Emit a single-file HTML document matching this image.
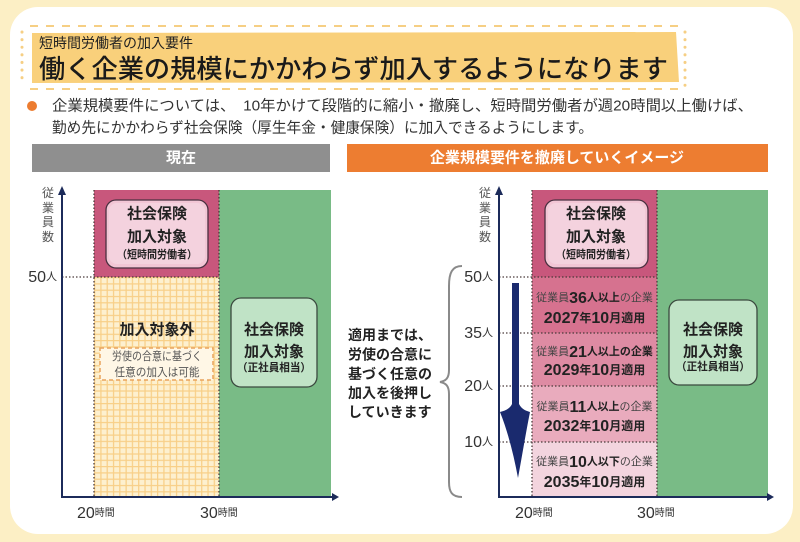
<!DOCTYPE html>
<html><head><meta charset="utf-8">
<style>
html,body{margin:0;padding:0;background:#fcefc5;}
svg{display:block;}
text{font-family:"Liberation Sans","Noto Sans CJK JP",sans-serif;}
</style></head>
<body>
<svg width="800" height="542" viewBox="0 0 800 542" xmlns="http://www.w3.org/2000/svg">
<defs>
<pattern id="grid" patternUnits="userSpaceOnUse" x="94" y="277" width="6.3" height="6.3">
<rect width="6.3" height="6.3" fill="#fdf0cf"/>
<path d="M0 0.6 H6.3 M0.6 0 V6.3" stroke="#f8cf87" stroke-width="1.3"/>
</pattern>
</defs>
<rect width="800" height="542" fill="#fcefc5"/>
<rect x="10" y="7" width="783" height="527" rx="28" fill="#ffffff"/>

<!-- title -->
<polygon points="32,33 676,32 679,82 32,83" fill="#f9d07b"/>
<g stroke="#f6cf84" fill="none">
<line x1="30" y1="26" x2="680" y2="26" stroke-width="2" stroke-dasharray="8 8"/>
<line x1="30" y1="89" x2="682" y2="89" stroke-width="2" stroke-dasharray="8 8"/>
<line x1="22" y1="32" x2="22" y2="84" stroke-width="3" stroke-dasharray="0.1 7.5" stroke-linecap="round"/>
<line x1="685" y1="32" x2="685" y2="88" stroke-width="3" stroke-dasharray="0.1 7.5" stroke-linecap="round"/>
</g>
<text x="39" y="43" font-size="14" fill="#222" dominant-baseline="central" textLength="154" lengthAdjust="spacingAndGlyphs">短時間労働者の加入要件</text>
<text x="39" y="69" font-size="26" font-weight="500" fill="#1a1a1a" dominant-baseline="central" textLength="629" lengthAdjust="spacingAndGlyphs">働く企業の規模にかかわらず加入するようになります</text>

<!-- bullet -->
<circle cx="32" cy="106" r="5" fill="#ec7c30"/>
<text x="52" y="106" font-size="15" fill="#333" dominant-baseline="central" textLength="701" lengthAdjust="spacingAndGlyphs">企業規模要件については、　10年かけて段階的に縮小・撤廃し、短時間労働者が週20時間以上働けば、</text>
<text x="52" y="128" font-size="15" fill="#333" dominant-baseline="central" textLength="541" lengthAdjust="spacingAndGlyphs">勤め先にかかわらず社会保険（厚生年金・健康保険）に加入できるようにします。</text>

<!-- headers -->
<rect x="32" y="144" width="298" height="28" fill="#8f8f8f"/>
<text x="181" y="158" font-size="15" font-weight="bold" fill="#fff" text-anchor="middle" dominant-baseline="central">現在</text>
<rect x="347" y="144" width="421" height="28" fill="#ed7d31"/>
<text x="557" y="158" font-size="15" font-weight="bold" fill="#fff" text-anchor="middle" dominant-baseline="central" textLength="254" lengthAdjust="spacingAndGlyphs">企業規模要件を撤廃していくイメージ</text>

<!-- LEFT CHART -->
<rect x="94" y="190" width="125" height="87" fill="#c8577c"/>
<rect x="94" y="277" width="125" height="220" fill="url(#grid)"/>
<rect x="219" y="190" width="112" height="307" fill="#79bb86"/>
<g stroke="#4a3a3a" stroke-width="1.3" stroke-dasharray="1.5 2" fill="none">
<line x1="94" y1="190" x2="94" y2="497"/>
<line x1="219" y1="190" x2="219" y2="497"/>
<line x1="62" y1="277" x2="219" y2="277"/>
</g>
<rect x="106" y="200" width="102" height="68" rx="10" fill="#f2c6d5" stroke="#4a3040" stroke-width="1.3"/>
<rect x="109" y="203" width="96" height="61" rx="8" fill="#f4d2de"/>
<g font-weight="bold" fill="#222" text-anchor="middle" dominant-baseline="central">
<text x="157" y="214" font-size="15">社会保険</text>
<text x="157" y="237" font-size="15">加入対象</text>
<text x="157" y="255" font-size="11" textLength="80" lengthAdjust="spacingAndGlyphs">（短時間労働者）</text>
<text x="157" y="330" font-size="15">加入対象外</text>
</g>
<rect x="100" y="348" width="113" height="32" fill="#fff7e6" stroke="#e9a35d" stroke-width="1.5" stroke-dasharray="4 3"/>
<text x="157" y="357" font-size="11.5" fill="#555" text-anchor="middle" dominant-baseline="central" textLength="90" lengthAdjust="spacingAndGlyphs">労使の合意に基づく</text>
<text x="157" y="373" font-size="11.5" fill="#555" text-anchor="middle" dominant-baseline="central" textLength="85" lengthAdjust="spacingAndGlyphs">任意の加入は可能</text>

<rect x="231" y="298" width="86" height="89" rx="10" fill="#c0e3c6" stroke="#3b4a3f" stroke-width="1.3"/>
<g font-weight="bold" fill="#222" text-anchor="middle" dominant-baseline="central">
<text x="274" y="330" font-size="15">社会保険</text>
<text x="274" y="352" font-size="15">加入対象</text>
<text x="274" y="368" font-size="11" textLength="74" lengthAdjust="spacingAndGlyphs">（正社員相当）</text>
</g>

<!-- left axes -->
<g stroke="#1c2b5a" stroke-width="2" fill="none">
<line x1="62" y1="192" x2="62" y2="497"/>
<line x1="61" y1="497" x2="333" y2="497"/>
</g>
<polygon points="58,195 66,195 62,186" fill="#1c2b5a"/>
<polygon points="332,493 332,501 339,497" fill="#1c2b5a"/>
<g font-size="12" fill="#555" text-anchor="middle" dominant-baseline="central">
<text x="48" y="193">従</text><text x="48" y="208">業</text><text x="48" y="222">員</text><text x="48" y="237">数</text>
</g>
<text x="57" y="277" text-anchor="end" dominant-baseline="central" fill="#333"><tspan font-size="16">50</tspan><tspan font-size="11">人</tspan></text>
<text x="77" y="513" dominant-baseline="central" fill="#333"><tspan font-size="16">20</tspan><tspan font-size="10">時間</tspan></text>
<text x="200" y="513" dominant-baseline="central" fill="#333"><tspan font-size="16">30</tspan><tspan font-size="10">時間</tspan></text>

<!-- RIGHT CHART -->
<g font-size="14" font-weight="bold" fill="#222" dominant-baseline="central">
<text x="348" y="335">適用までは、</text>
<text x="348" y="354.5">労使の合意に</text>
<text x="348" y="374">基づく任意の</text>
<text x="348" y="393">加入を後押し</text>
<text x="348" y="412">していきます</text>
</g>
<path d="M462,266 C452,266 449,273 449,286 L449,370 C449,378 446,381 440,382 C446,383 449,386 449,394 L449,482 C449,492 452,497 462,497" stroke="#8a8a8a" stroke-width="2" fill="none"/>

<rect x="532" y="190" width="125" height="87" fill="#c8577c"/>
<rect x="532" y="277" width="125" height="56" fill="#d6728f"/>
<rect x="532" y="333" width="125" height="53" fill="#de8ba3"/>
<rect x="532" y="386" width="125" height="56" fill="#e9abbd"/>
<rect x="532" y="442" width="125" height="55" fill="#f3d4de"/>
<rect x="657" y="190" width="111" height="307" fill="#79bb86"/>
<g stroke="#4a3a3a" stroke-width="1.3" stroke-dasharray="1.5 2" fill="none">
<line x1="532" y1="190" x2="532" y2="497"/>
<line x1="657" y1="190" x2="657" y2="497"/>
<line x1="499" y1="277" x2="657" y2="277"/>
<line x1="499" y1="333" x2="657" y2="333"/>
<line x1="499" y1="386" x2="657" y2="386"/>
<line x1="499" y1="442" x2="657" y2="442"/>
</g>
<rect x="545" y="200" width="103" height="68" rx="10" fill="#f2c6d5" stroke="#4a3040" stroke-width="1.3"/>
<rect x="548" y="203" width="97" height="61" rx="8" fill="#f4d2de"/>
<g font-weight="bold" fill="#222" text-anchor="middle" dominant-baseline="central">
<text x="596" y="214" font-size="15">社会保険</text>
<text x="596" y="237" font-size="15">加入対象</text>
<text x="596" y="255" font-size="11" textLength="80" lengthAdjust="spacingAndGlyphs">（短時間労働者）</text>
</g>

<g text-anchor="middle" dominant-baseline="central" fill="#222">
<text x="594.5" y="298"><tspan font-size="11" fill="#444">従業員</tspan><tspan font-size="16" font-weight="bold">36</tspan><tspan font-size="11" font-weight="bold">人以上</tspan><tspan font-size="11" fill="#444">の企業</tspan></text>
<text x="594.5" y="318" font-weight="bold"><tspan font-size="16">2027</tspan><tspan font-size="12">年</tspan><tspan font-size="16">10</tspan><tspan font-size="12">月適用</tspan></text>
<text x="594.5" y="352"><tspan font-size="11" fill="#444">従業員</tspan><tspan font-size="16" font-weight="bold">21</tspan><tspan font-size="11" font-weight="bold">人以上の企業</tspan></text>
<text x="594.5" y="370" font-weight="bold"><tspan font-size="16">2029</tspan><tspan font-size="12">年</tspan><tspan font-size="16">10</tspan><tspan font-size="12">月適用</tspan></text>
<text x="594.5" y="407"><tspan font-size="11" fill="#444">従業員</tspan><tspan font-size="16" font-weight="bold">11</tspan><tspan font-size="11" font-weight="bold">人以上</tspan><tspan font-size="11" fill="#444">の企業</tspan></text>
<text x="594.5" y="426" font-weight="bold"><tspan font-size="16">2032</tspan><tspan font-size="12">年</tspan><tspan font-size="16">10</tspan><tspan font-size="12">月適用</tspan></text>
<text x="594.5" y="462"><tspan font-size="11" fill="#444">従業員</tspan><tspan font-size="16" font-weight="bold">10</tspan><tspan font-size="11" font-weight="bold">人以下</tspan><tspan font-size="11" fill="#444">の企業</tspan></text>
<text x="594.5" y="482" font-weight="bold"><tspan font-size="16">2035</tspan><tspan font-size="12">年</tspan><tspan font-size="16">10</tspan><tspan font-size="12">月適用</tspan></text>
</g>

<rect x="669" y="300" width="88" height="85" rx="10" fill="#c0e3c6" stroke="#3b4a3f" stroke-width="1.3"/>
<g font-weight="bold" fill="#222" text-anchor="middle" dominant-baseline="central">
<text x="713" y="330" font-size="15">社会保険</text>
<text x="713" y="352" font-size="15">加入対象</text>
<text x="713" y="367" font-size="11" textLength="74" lengthAdjust="spacingAndGlyphs">（正社員相当）</text>
</g>

<!-- right axes -->
<g stroke="#1c2b5a" stroke-width="2" fill="none">
<line x1="499" y1="192" x2="499" y2="497"/>
<line x1="498" y1="497" x2="768" y2="497"/>
</g>
<polygon points="495,195 503,195 499,186" fill="#1c2b5a"/>
<polygon points="767,493 767,501 774,497" fill="#1c2b5a"/>
<g font-size="12" fill="#555" text-anchor="middle" dominant-baseline="central">
<text x="485" y="193">従</text><text x="485" y="208">業</text><text x="485" y="222">員</text><text x="485" y="237">数</text>
</g>
<g text-anchor="end" dominant-baseline="central" fill="#333">
<text x="493" y="277"><tspan font-size="16">50</tspan><tspan font-size="11">人</tspan></text>
<text x="493" y="333"><tspan font-size="16">35</tspan><tspan font-size="11">人</tspan></text>
<text x="493" y="386"><tspan font-size="16">20</tspan><tspan font-size="11">人</tspan></text>
<text x="493" y="442"><tspan font-size="16">10</tspan><tspan font-size="11">人</tspan></text>
</g>
<text x="515" y="513" dominant-baseline="central" fill="#333"><tspan font-size="16">20</tspan><tspan font-size="10">時間</tspan></text>
<text x="637" y="513" dominant-baseline="central" fill="#333"><tspan font-size="16">30</tspan><tspan font-size="10">時間</tspan></text>

<!-- big arrow -->
<path d="M512,283 L519,283 L519,404 C522,410 527,411 530,412 C526,432 522,456 518,478 C514,456 508,432 500,412 C504,411 510,409 512,404 Z" fill="#1a2a6e"/>
</svg>
</body></html>
